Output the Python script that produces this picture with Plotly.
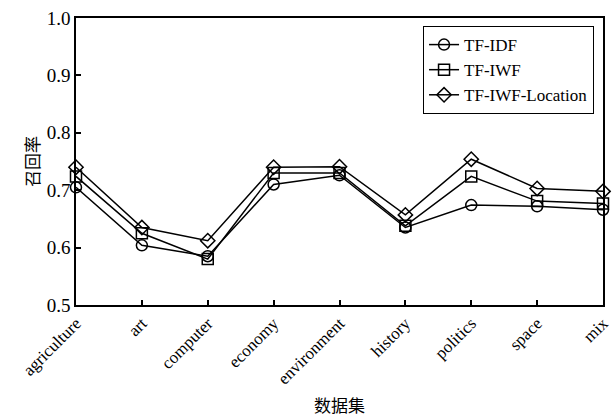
import plotly.graph_objects as go

categories = ["agriculture", "art", "computer", "economy", "environment",
              "history", "politics", "space", "mix"]
tf_idf = [0.705, 0.604, 0.585, 0.710, 0.726, 0.635, 0.674, 0.672, 0.666]
tf_iwf = [0.724, 0.625, 0.580, 0.730, 0.730, 0.638, 0.724, 0.681, 0.677]
tf_iwf_location = [0.740, 0.635, 0.612, 0.740, 0.741, 0.657, 0.754, 0.703, 0.698]
y_ticks = [0.5, 0.6, 0.7, 0.8, 0.9, 1.0]

font_serif = "Liberation Serif, serif"
x = list(range(len(categories)))

series = [
    ("TF-IDF", tf_idf, "circle-open"),
    ("TF-IWF", tf_iwf, "square-open"),
    ("TF-IWF-Location", tf_iwf_location, "diamond-open"),
]

fig = go.Figure()
for name, vals, sym in series:
    fig.add_trace(go.Scatter(
        x=x, y=vals, name=name, mode="lines+markers",
        line=dict(color="black", width=1.5),
        marker=dict(symbol=sym, size=11, color="black",
                    line=dict(color="black", width=1.5)),
        cliponaxis=False,
    ))

fig.update_layout(
    width=615, height=417,
    margin=dict(l=76, r=12, t=18, b=112),
    paper_bgcolor="white", plot_bgcolor="white",
    font=dict(family=font_serif, size=16, color="black"),
    showlegend=True,
    legend=dict(
        x=0.983, y=0.972, xanchor="right", yanchor="top",
        bordercolor="black", borderwidth=1, bgcolor="white",
        font=dict(family=font_serif, size=17),
        tracegroupgap=0, itemwidth=30,
    ),
    xaxis=dict(
        range=[0, len(categories) - 1], automargin=False,
        tickmode="array", tickvals=x, ticktext=categories,
        tickangle=-45, ticks="inside", ticklen=5, tickwidth=1.5,
        tickcolor="black",
        showline=True, linecolor="black", linewidth=1.5, mirror=True,
        showgrid=False, zeroline=False,
        tickfont=dict(family=font_serif, size=17),
        title=dict(text="数据集", standoff=14,
                   font=dict(family="Noto Sans CJK SC", size=17)),
    ),
    yaxis=dict(
        range=[0.5, 1.0], automargin=False,
        tickmode="array", tickvals=y_ticks,
        ticktext=[f"{v:.1f}" for v in y_ticks],
        ticks="inside", ticklen=5, tickwidth=1.5, tickcolor="black",
        showline=True, linecolor="black", linewidth=1.5, mirror=True,
        showgrid=False, zeroline=False,
        tickfont=dict(family=font_serif, size=19),
        title=dict(text="召回率", standoff=3,
                   font=dict(family="Noto Sans CJK SC", size=17)),
    ),
)

fig.write_html("out.html")
